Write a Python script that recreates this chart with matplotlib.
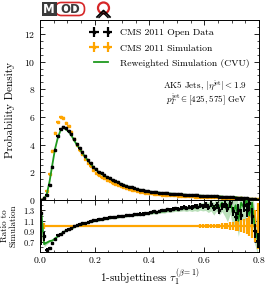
import numpy as np
import matplotlib
matplotlib.use('Agg')
import matplotlib.pyplot as plt
from matplotlib.patches import FancyBboxPatch, Circle, Rectangle
from matplotlib.ticker import MultipleLocator

plt.rcParams['font.family'] = 'serif'
plt.rcParams['font.serif'] = ['cmr10']
plt.rcParams['mathtext.fontset'] = 'cm'
plt.rcParams['axes.formatter.use_mathtext'] = True

# 80 bins of width 0.01 between 0 and 0.8
bin_edges = np.linspace(0.0, 0.8, 81)

# CMS 2011 Open Data (probability density)
data = np.array([
    0.01, 0.12, 0.35, 1.10, 2.40, 3.60, 4.60, 5.10, 5.30, 5.20,
    5.00, 4.75, 4.40, 4.05, 3.75, 3.45, 3.15, 2.90, 2.65, 2.42,
    2.22, 2.06, 1.92, 1.79, 1.67, 1.56, 1.46, 1.37, 1.28, 1.19,
    1.11, 1.04, 0.97, 0.91, 0.85, 0.80, 0.75, 0.71, 0.67, 0.63,
    0.60, 0.58, 0.56, 0.54, 0.52, 0.50, 0.49, 0.47, 0.46, 0.44,
    0.43, 0.41, 0.40, 0.38, 0.37, 0.36, 0.34, 0.33, 0.32, 0.31,
    0.30, 0.29, 0.28, 0.27, 0.26, 0.25, 0.24, 0.23, 0.22, 0.21,
    0.19, 0.18, 0.17, 0.15, 0.14, 0.12, 0.10, 0.08, 0.06, 0.03])

# CMS 2011 Simulation
sim = np.array([
    0.008, 0.15, 0.64, 1.90, 3.53, 4.86, 5.61, 6.00, 5.96, 5.59,
    5.32, 4.90, 4.40, 3.97, 3.64, 3.29, 2.97, 2.69, 2.43, 2.18,
    1.98, 1.82, 1.68, 1.56, 1.44, 1.34, 1.25, 1.16, 1.08, 0.99,
    0.925, 0.86, 0.795, 0.746, 0.691, 0.650, 0.605, 0.573, 0.536, 0.504,
    0.476, 0.453, 0.441, 0.419, 0.400, 0.385, 0.371, 0.359, 0.346, 0.328,
    0.323, 0.304, 0.294, 0.281, 0.270, 0.265, 0.246, 0.241, 0.229, 0.225,
    0.213, 0.212, 0.197, 0.200, 0.186, 0.192, 0.174, 0.162, 0.163, 0.145,
    0.148, 0.153, 0.129, 0.123, 0.100, 0.092, 0.069, 0.067, 0.067, 0.042])

# Reweighted simulation, as ratio to simulation
rw_ratio = np.array([
    1.25, 0.65, 0.68, 0.71, 0.72, 0.76, 0.80, 0.84, 0.88, 0.91,
    0.93, 0.95, 0.98, 1.00, 1.02, 1.03, 1.05, 1.06, 1.08, 1.09,
    1.10, 1.11, 1.12, 1.13, 1.14, 1.15, 1.16, 1.16, 1.17, 1.18,
    1.19, 1.19, 1.20, 1.21, 1.21, 1.22, 1.22, 1.23, 1.24, 1.24,
    1.25, 1.26, 1.26, 1.27, 1.28, 1.28, 1.30, 1.30, 1.31, 1.32,
    1.32, 1.33, 1.34, 1.33, 1.35, 1.34, 1.36, 1.35, 1.38, 1.37,
    1.39, 1.36, 1.40, 1.33, 1.42, 1.36, 1.45, 1.38, 1.30, 1.48,
    1.25, 1.40, 1.10, 1.45, 1.35, 1.50, 1.20, 1.45, 0.95, 0.75])

# relative uncertainties
data_relerr = np.array([
    0.50, 0.10, 0.04, 0.02, 0.012, 0.010, 0.008, 0.008, 0.008, 0.008,
    0.008, 0.008, 0.008, 0.008, 0.008, 0.008, 0.009, 0.009, 0.009, 0.010,
    0.010, 0.010, 0.011, 0.011, 0.011, 0.012, 0.012, 0.013, 0.013, 0.014,
    0.014, 0.015, 0.015, 0.016, 0.016, 0.017, 0.018, 0.018, 0.019, 0.020,
    0.020, 0.021, 0.021, 0.022, 0.022, 0.023, 0.023, 0.024, 0.025, 0.025,
    0.026, 0.027, 0.028, 0.029, 0.030, 0.031, 0.032, 0.033, 0.035, 0.036,
    0.038, 0.040, 0.042, 0.045, 0.048, 0.050, 0.053, 0.056, 0.060, 0.064,
    0.068, 0.072, 0.078, 0.084, 0.090, 0.100, 0.110, 0.125, 0.150, 0.200])
sim_relerr = np.array([
    0.30, 0.06, 0.02, 0.010, 0.006, 0.005, 0.005, 0.005, 0.005, 0.005,
    0.005, 0.005, 0.005, 0.005, 0.005, 0.005, 0.005, 0.006, 0.006, 0.006,
    0.006, 0.006, 0.006, 0.006, 0.006, 0.006, 0.007, 0.007, 0.007, 0.007,
    0.007, 0.008, 0.008, 0.008, 0.009, 0.009, 0.010, 0.010, 0.011, 0.011,
    0.012, 0.013, 0.013, 0.014, 0.015, 0.015, 0.016, 0.017, 0.018, 0.019,
    0.020, 0.021, 0.022, 0.023, 0.024, 0.025, 0.027, 0.028, 0.030, 0.032,
    0.034, 0.036, 0.038, 0.041, 0.044, 0.047, 0.050, 0.055, 0.060, 0.070,
    0.080, 0.090, 0.100, 0.115, 0.135, 0.160, 0.190, 0.230, 0.300, 0.450])
rw_band = np.array([
    0.10, 0.05, 0.03, 0.02, 0.015, 0.012, 0.010, 0.010, 0.010, 0.010,
    0.010, 0.010, 0.010, 0.010, 0.010, 0.010, 0.010, 0.010, 0.010, 0.010,
    0.012, 0.012, 0.013, 0.013, 0.014, 0.014, 0.015, 0.015, 0.016, 0.016,
    0.017, 0.018, 0.018, 0.019, 0.020, 0.021, 0.022, 0.023, 0.024, 0.025,
    0.026, 0.027, 0.028, 0.029, 0.030, 0.032, 0.034, 0.036, 0.038, 0.040,
    0.042, 0.045, 0.048, 0.051, 0.055, 0.060, 0.065, 0.070, 0.075, 0.080,
    0.090, 0.100, 0.110, 0.120, 0.130, 0.150, 0.170, 0.190, 0.220, 0.250,
    0.280, 0.300, 0.300, 0.300, 0.300, 0.300, 0.300, 0.300, 0.300, 0.300])

centers = 0.5 * (bin_edges[1:] + bin_edges[:-1])
half_w = 0.5 * np.diff(bin_edges)
rw = sim * rw_ratio
ratio_data = data / sim

BLACK = 'black'
ORANGE = '#FFA500'
GREEN = '#1f9a1f'

fig = plt.figure(figsize=(2.74, 2.87), dpi=100)
ax = fig.add_axes([0.146, 0.303, 0.799, 0.627])
rax = fig.add_axes([0.146, 0.122, 0.799, 0.181], sharex=ax)

# main panel
ax.errorbar(centers, sim, xerr=half_w, yerr=sim * sim_relerr, fmt='s', ms=2,
            color=ORANGE, elinewidth=1.6, capsize=0, label='CMS 2011 Simulation', zorder=2)
ax.plot(centers, rw, color=GREEN, lw=1.3, label='Reweighted Simulation (CVU)', zorder=3)
ax.errorbar(centers, data, xerr=half_w, yerr=data * data_relerr, fmt='s', ms=2,
            color=BLACK, elinewidth=1.6, capsize=0, label='CMS 2011 Open Data', zorder=4)

handles, labels = ax.get_legend_handles_labels()
order = [labels.index('CMS 2011 Open Data'), labels.index('CMS 2011 Simulation'),
         labels.index('Reweighted Simulation (CVU)')]
ax.legend([handles[i] for i in order], [labels[i] for i in order], loc='upper right',
          bbox_to_anchor=(0.985, 0.985), frameon=False, fontsize=7, numpoints=2,
          handlelength=2.0, handletextpad=1.0, labelspacing=0.65, borderaxespad=0.2)

ax.text(0.945, 0.635, r'AK5 Jets, $|\eta^{\rm jet}| < 1.9$', transform=ax.transAxes,
        ha='right', va='center', fontsize=6.5)
ax.text(0.945, 0.555, r'$p_T^{\rm jet} \in [425, 575]$ GeV', transform=ax.transAxes,
        ha='right', va='center', fontsize=6.5)

ax.set_xlim(0, 0.8)
ax.set_ylim(0, 13)
ax.set_ylabel('Probability Density', fontsize=8, labelpad=6)
ax.yaxis.set_major_locator(MultipleLocator(2))
ax.yaxis.set_minor_locator(MultipleLocator(0.5))
ax.xaxis.set_major_locator(MultipleLocator(0.2))
ax.xaxis.set_minor_locator(MultipleLocator(0.05))
plt.setp(ax.get_xticklabels(), visible=False)

# ratio panel
rax.fill_between(centers, rw_ratio - rw_band, rw_ratio + rw_band, color=GREEN, alpha=0.3,
                 lw=0, zorder=1)
rax.errorbar(centers, np.ones_like(centers), xerr=half_w, yerr=sim_relerr, fmt='none',
             ecolor=ORANGE, elinewidth=1.6, capsize=0, zorder=2)
rax.plot(centers, rw_ratio, color=GREEN, lw=1.3, zorder=3)
rax.errorbar(centers, ratio_data, xerr=half_w, yerr=ratio_data * data_relerr, fmt='s', ms=2,
             color=BLACK, elinewidth=1.4, capsize=0, zorder=4)
rax.set_ylim(0.5, 1.5)
rax.set_yticks([0.7, 0.9, 1.1, 1.3])
rax.yaxis.set_minor_locator(MultipleLocator(0.1))
rax.set_ylabel('Ratio to\nSimulation', fontsize=6.5, linespacing=0.9)
rax.set_xlabel(r'1-subjettiness $\tau_1^{(\beta=1)}$', fontsize=8, labelpad=1)

for a in (ax, rax):
    a.tick_params(which='both', direction='in', top=True, right=True)
    a.tick_params(which='major', length=3.5, width=0.6, labelsize=7)
    a.tick_params(which='minor', length=1.8, width=0.5)
    for s in a.spines.values():
        s.set_linewidth(0.7)
rax.tick_params(axis='y', which='major', labelsize=6)
rax.tick_params(axis='x', which='major', pad=2.5)
fig.align_ylabels([ax, rax])

# logo overlay in pixel coordinates
lax = fig.add_axes([0, 0, 1, 1], zorder=10)
lax.set_xlim(0, 274)
lax.set_ylim(287, 0)
lax.axis('off')
lax.add_patch(FancyBboxPatch((55.5, 2.5), 29, 13, boxstyle='round,pad=0,rounding_size=6',
                             fc='white', ec='#d62728', lw=1.2))
lax.add_patch(Rectangle((41.5, 2), 15, 14, fc='#3a3a3a', ec='none'))
lax.text(49, 9.5, 'M', color='white', fontsize=8.5, fontweight='bold', family='DejaVu Sans',
         ha='center', va='center')
lax.text(70, 9.5, 'OD', color='#3a3a3a', fontsize=8.5, fontweight='bold', family='DejaVu Sans',
         ha='center', va='center')
lax.add_patch(Circle((103.5, 8), 5.5, fc='none', ec='#d62728', lw=1.6))
lax.plot([97, 103.5, 110], [17, 10.5, 17], color='black', lw=1.3)
lax.plot([99, 103.5, 108], [17.5, 13, 17.5], color='black', lw=1.0)

fig.savefig('out.png', dpi=100)
